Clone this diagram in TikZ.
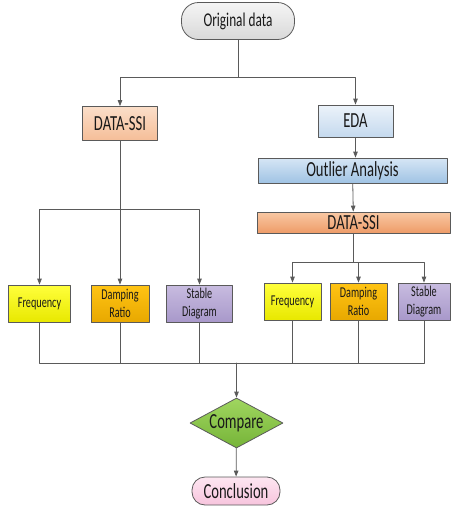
\documentclass[tikz,border=0pt]{standalone}
\usepackage{fontspec}
\setmainfont[FakeStretch=0.68]{Carlito}
\usetikzlibrary{arrows.meta,positioning,shapes.geometric}

\definecolor{edgegray}{HTML}{5A5A5A}

\begin{document}
\begin{tikzpicture}[x=1pt,y=-1pt,line cap=round,line join=round,
  box/.style={draw=edgegray,line width=.8pt,inner sep=0pt,align=center,text=black!90},
  bigbox/.style={box,font=\fontsize{21.5}{23}\selectfont},
  smallbox/.style={box,font=\fontsize{15}{18}\selectfont,minimum height=37pt},
  wire/.style={draw=edgegray,line width=.8pt},
  arr/.style={wire,-{Triangle[length=6pt,width=4.5pt]}}]
\path[use as bounding box] (0,0) rectangle (451,512);
\node[bigbox,rounded corners=17pt,minimum width=113pt,minimum height=37pt,top color=gray!8,bottom color=gray!30,font=\fontsize{19.5}{21}\selectfont] (orig) at (238,21) {Original data};
\node[bigbox,minimum width=75pt,minimum height=34pt,top color={rgb,255:red,251;green,222;blue,201},bottom color={rgb,255:red,245;green,190;blue,152}] (dssiL) at (120,123.5) {DATA-SSI};
\node[bigbox,minimum width=75pt,minimum height=32pt,top color={rgb,255:red,236;green,243;blue,250},bottom color={rgb,255:red,196;green,217;blue,238}] (eda) at (355.5,121) {EDA};
\node[bigbox,minimum width=189pt,minimum height=25pt,top color={rgb,255:red,214;green,230;blue,245},bottom color={rgb,255:red,160;green,195;blue,228}] (outl) at (352.5,170.5) {Outlier Analysis};
\node[bigbox,minimum width=193pt,minimum height=21pt,top color={rgb,255:red,249;green,200;blue,164},bottom color={rgb,255:red,238;green,156;blue,104}] (dssiR) at (353.5,222.5) {DATA-SSI};
\node[smallbox,minimum width=62pt,top color={rgb,255:red,255;green,255;blue,60},bottom color={rgb,255:red,232;green,232;blue,0}] (freqL) at (39.5,303.5) {Frequency};
\node[smallbox,minimum width=58pt,top color={rgb,255:red,255;green,196;blue,20},bottom color={rgb,255:red,232;green,168;blue,0}] (dampL) at (120,303.5) {Damping\\Ratio};
\node[smallbox,minimum width=66pt,top color={rgb,255:red,200;green,188;blue,224},bottom color={rgb,255:red,168;green,152;blue,202}] (stabL) at (199.5,303.5) {Stable\\Diagram};
\node[smallbox,minimum width=57pt,top color={rgb,255:red,255;green,255;blue,60},bottom color={rgb,255:red,232;green,232;blue,0}] (freqR) at (292.5,301.5) {Frequency};
\node[smallbox,minimum width=57pt,top color={rgb,255:red,255;green,196;blue,20},bottom color={rgb,255:red,232;green,168;blue,0}] (dampR) at (358.5,301.5) {Damping\\Ratio};
\node[smallbox,minimum width=52pt,top color={rgb,255:red,200;green,188;blue,224},bottom color={rgb,255:red,168;green,152;blue,202}] (stabR) at (424,301.5) {Stable\\Diagram};
\node[bigbox,diamond,aspect=1.86,minimum width=93pt,minimum height=50pt,top color={rgb,255:red,160;green,214;blue,96},bottom color={rgb,255:red,118;green,180;blue,56}] (cmp) at (236.5,423) {Compare};
\node[bigbox,rounded corners=13pt,minimum width=88pt,minimum height=28pt,top color={rgb,255:red,253;green,230;blue,241},bottom color={rgb,255:red,247;green,196;blue,221}] (concl) at (236,491) {Conclusion};
\coordinate (topsplit) at (238,77);
\coordinate (lsplit) at (120,209);
\coordinate (rsplit) at (353.5,262);
\coordinate (merge) at (236.5,363);
\draw[wire] (orig) -- (topsplit);
\draw[arr] (topsplit) -| (dssiL);
\draw[arr] (topsplit) -| (eda);
\draw[arr] (eda) -- (eda|-outl.north);
\draw[arr] (outl) -- (dssiR);
\draw[wire] (dssiL) -- (lsplit);
\draw[arr] (lsplit) -| (freqL);
\draw[arr] (lsplit) -- (dampL);
\draw[arr] (lsplit) -| (stabL);
\draw[wire] (dssiR) -- (rsplit);
\draw[arr] (rsplit) -| (freqR);
\draw[arr] (rsplit) -| (dampR);
\draw[arr] (rsplit) -| (stabR);
\foreach \b in {freqL,dampL,stabL,freqR,dampR,stabR}
  \draw[wire] (\b) |- (merge);
\draw[arr] (merge) -- (cmp);
\draw[arr] (cmp) -- (concl);
\end{tikzpicture}
\end{document}
